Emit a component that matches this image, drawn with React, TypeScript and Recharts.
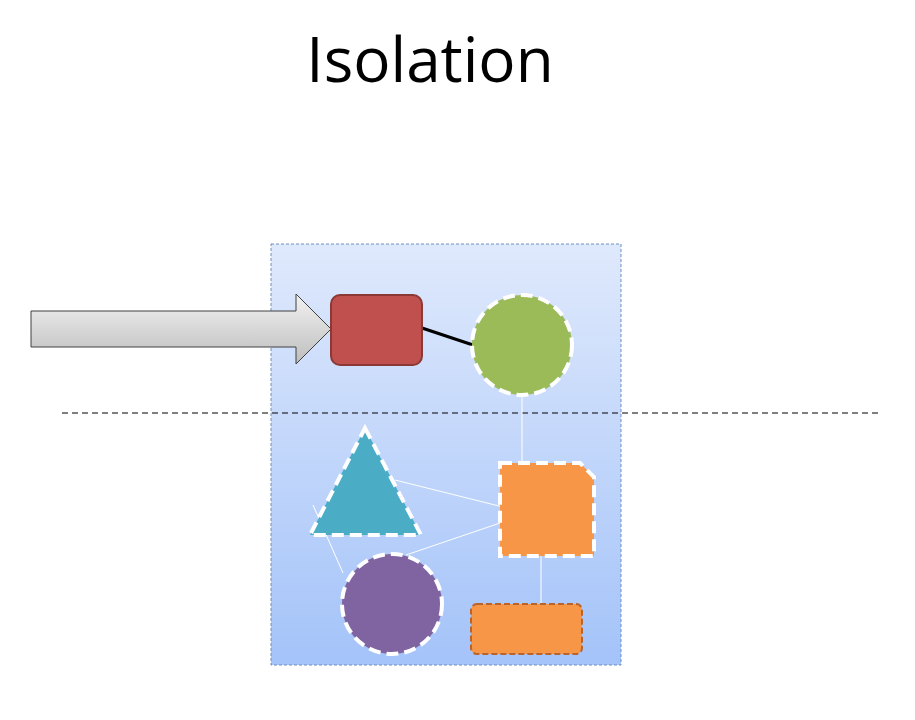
import React from "react";
import { ScatterChart, Scatter, XAxis, YAxis } from "recharts";

// Diagram elements, drawn in order (x, y in diagram coordinates)
const kinds = ["panel", "divider", "link", "link", "link", "link", "link", "link", "arrow", "block", "bigCircle", "triangle", "notchSquare", "smallCircle", "bar", "title"];
const xs = [446, 472, 422, 522, 395, 406, 313, 541, 31, 376, 522, 365, 547, 392, 526, 430];
const ys = [454, 413, 328, 395, 480, 555, 505, 556, 329, 330, 345, 482, 510, 604, 629, 58];
const x2s = [0, 0, 473, 522, 503, 503, 343, 541, 0, 0, 0, 0, 0, 0, 0, 0];
const y2s = [0, 0, 345, 465, 507, 522, 573, 604, 0, 0, 0, 0, 0, 0, 0, 0];
const labels = ["", "", "", "", "", "", "", "", "", "", "", "", "", "", "", "Isolation"];

const data = kinds.map((k, i) => ({ kind: k, x: xs[i], y: ys[i], x2: x2s[i], y2: y2s[i], label: labels[i] }));

const dash = { stroke: "#fff", strokeWidth: 4, strokeDasharray: "12 6" };

const Shape = (p: any) => {
  const { cx, cy, payload } = p;
  const k = payload.kind;
  if (k === "panel")
    return (
      <g>
        <defs>
          <linearGradient id="pg" x1="0" y1="0" x2="0" y2="1">
            <stop offset="0" stopColor="#dfe9fc" />
            <stop offset="1" stopColor="#a4c3f9" />
          </linearGradient>
          <linearGradient id="ag" x1="0" y1="0" x2="0" y2="1">
            <stop offset="0" stopColor="#f2f2f2" />
            <stop offset="1" stopColor="#bdbdbd" />
          </linearGradient>
        </defs>
        <rect x={cx - 175} y={cy - 210} width={350} height={421} fill="url(#pg)" stroke="#6f8fbf" strokeWidth={1} strokeDasharray="3 2" />
      </g>
    );
  if (k === "divider")
    return <line x1={cx - 410} x2={cx + 410} y1={cy} y2={cy} stroke="#000" strokeWidth={1} strokeDasharray="6 4" />;
  if (k === "link") {
    const dx = payload.x2 - payload.x, dy = payload.y2 - payload.y;
    const black = payload.x === 422;
    return <line x1={cx} y1={cy} x2={cx + dx} y2={cy + dy} stroke={black ? "#000" : "#fff"} strokeWidth={black ? 3 : 1} />;
  }
  if (k === "arrow") {
    const pts = [
      [0, -18], [265, -18], [265, -35], [300, 0], [265, 35], [265, 18], [0, 18],
    ].map(([a, b]) => `${cx + a},${cy + b}`).join(" ");
    return <polygon points={pts} fill="url(#ag)" stroke="#404040" strokeWidth={1} />;
  }
  if (k === "block")
    return <rect x={cx - 45} y={cy - 35} width={91} height={70} rx={9} fill="#c0504d" stroke="#8c3836" strokeWidth={2} />;
  if (k === "bigCircle") return <circle cx={cx} cy={cy} r={50} fill="#9bbb59" {...dash} />;
  if (k === "smallCircle") return <circle cx={cx} cy={cy} r={50} fill="#8064a2" {...dash} />;
  if (k === "triangle")
    return <polygon points={`${cx},${cy - 54} ${cx + 56},${cy + 53} ${cx - 55},${cy + 53}`} fill="#4bacc6" {...dash} />;
  if (k === "notchSquare")
    return (
      <polygon
        points={`${cx - 47},${cy - 47} ${cx + 33},${cy - 47} ${cx + 47},${cy - 33} ${cx + 47},${cy + 46} ${cx - 47},${cy + 46}`}
        fill="#f79646" {...dash}
      />
    );
  if (k === "bar")
    return <rect x={cx - 55} y={cy - 25} width={111} height={50} rx={6} fill="#f79646" stroke="#b8642a" strokeWidth={2} strokeDasharray="6 3" />;
  if (k === "title")
    return (
      <text x={cx} y={cy} textAnchor="middle" dominantBaseline="central" fontSize={62} fontFamily="'Open Sans', 'Noto Sans', sans-serif" fill="#000">
        {payload.label}
      </text>
    );
  return null;
};

export default function App() {
  return (
    <div style={{ position: "absolute", left: 0, top: 0, background: "#fff" }}>
      <ScatterChart width={915} height={720} margin={{ top: 0, right: 0, bottom: 0, left: 0 }}>
        <XAxis type="number" dataKey="x" domain={[0, 915]} hide />
        <YAxis type="number" dataKey="y" domain={[0, 720]} reversed hide />
        <Scatter data={data} shape={Shape} isAnimationActive={false} />
      </ScatterChart>
    </div>
  );
}
